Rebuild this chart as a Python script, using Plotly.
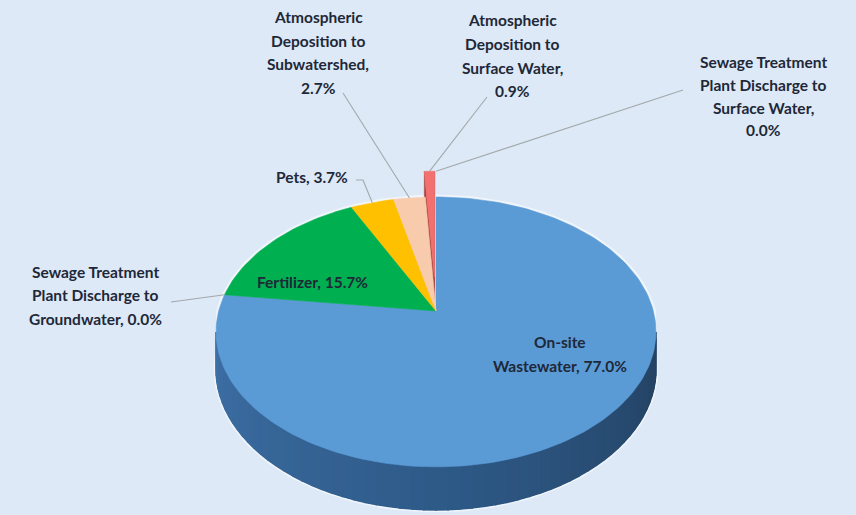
import numpy as np
import plotly.graph_objects as go

# ---- data -------------------------------------------------------------
categories = [
    "On-site Wastewater",
    "Sewage Treatment Plant Discharge to Groundwater",
    "Fertilizer",
    "Pets",
    "Atmospheric Deposition to Subwatershed",
    "Atmospheric Deposition to Surface Water",
    "Sewage Treatment Plant Discharge to Surface Water",
]
shares = [77.0, 0.0, 15.7, 3.7, 2.7, 0.9, 0.0]
label_templates = [
    "On-site\nWastewater, {:.1f}%",
    "Sewage Treatment\nPlant Discharge to\nGroundwater, {:.1f}%",
    "Fertilizer, {:.1f}%",
    "Pets, {:.1f}%",
    "Atmospheric\nDeposition to\nSubwatershed,\n{:.1f}%",
    "Atmospheric\nDeposition to\nSurface Water,\n{:.1f}%",
    "Sewage Treatment\nPlant Discharge to\nSurface Water,\n{:.1f}%",
]

# ---- styling ----------------------------------------------------------
W, H_PX = 856, 515
BG = "#dde9f6"
top_colors = ["#5b9bd5", "#5b9bd5", "#00b050", "#ffc000", "#f8cbad", "#f2706d", "#f2706d"]
explode = [0, 0, 0, 0, 0, 0.27, 0.27]
TEXT = "#1e2838"
FONT = "Lato"
FS = 15.5

# perspective projection of the tilted disc (screen pixels)
CX, CY = 436.0, 311.0
AX, BY = 217.3, 131.7
K = 0.155
DEPTH = 36.3


def proj(x, y, z=0.0):
    w = 1.0 + K * y
    return CX + AX * x / w, CY - BY * y / w + DEPTH * z / w


def deg2xy(th, r=1.0, ox=0.0, oy=0.0):
    t = np.radians(th)
    return ox + r * np.sin(t), oy + r * np.cos(t)


fig = go.Figure()


def poly(xs, ys, color, lw=0.6):
    fig.add_trace(go.Scatter(
        x=list(xs) + [xs[0]], y=list(ys) + [ys[0]], mode="lines",
        fill="toself", fillcolor=color, line=dict(color=color, width=lw),
        hoverinfo="skip", showlegend=False))


total = sum(shares)
bounds = np.concatenate([[0.0], np.cumsum(shares)]) / total * 360.0


def slice_top(i, z=0.0, n=None):
    a0, a1 = bounds[i], bounds[i + 1]
    mid = 0.5 * (a0 + a1)
    ox, oy = deg2xy(mid, explode[i])
    n = n or max(4, int((a1 - a0) / 1.5))
    ths = np.linspace(a0, a1, n)
    pts = [proj(ox, oy, z)] + [proj(*deg2xy(t, 1.0, ox, oy), z) for t in ths]
    return [p[0] for p in pts], [p[1] for p in pts]


# soft light halo around the disc outline
halo = np.linspace(0, 360, 181)
hx = [proj(*deg2xy(t), 0)[0] for t in halo]
hy = [max(proj(*deg2xy(t), 0)[1], proj(*deg2xy(t), 1)[1]) if 90 < t < 270 else proj(*deg2xy(t), 0)[1]
      for t in halo]
fig.add_trace(go.Scatter(x=hx, y=hy, mode="lines", line=dict(color="rgba(255,255,255,0.55)", width=5),
                         hoverinfo="skip", showlegend=False))

# exploded slices: radial side faces first, then their tops
for i, v in enumerate(shares):
    if v <= 0 or explode[i] == 0:
        continue
    a0, a1 = bounds[i], bounds[i + 1]
    mid = 0.5 * (a0 + a1)
    ox, oy = deg2xy(mid, explode[i])
    for a in (a0, a1):
        ex, ey = deg2xy(a, 1.0, ox, oy)
        p1, p2 = proj(ox, oy, 0), proj(ex, ey, 0)
        p3, p4 = proj(ex, ey, 1), proj(ox, oy, 1)
        poly([p1[0], p2[0], p3[0], p4[0]], [p1[1], p2[1], p3[1], p4[1]], "#a9423f")
    xs, ys = slice_top(i)
    poly(xs, ys, top_colors[i])

# front rim of the disc, shaded from light (left) to dark (right)
t_right = np.degrees(np.arccos(-K))
t_left = 360.0 - t_right
c_right = np.array([0x23, 0x40, 0x60])
c_mid = np.array([0x2e, 0x5a, 0x88])
c_left = np.array([0x3e, 0x70, 0xa6])

# base band under the shaded strips so no seams show through
ths = np.linspace(t_right, t_left, 120)
top = [proj(*deg2xy(t), 0) for t in ths]
bot = [proj(*deg2xy(t), 1) for t in ths[::-1]]
pts = top + bot
poly([p[0] for p in pts], [p[1] for p in pts], "rgb(46,90,136)", lw=0.5)

edges = np.linspace(t_right, t_left, 61)
for a, b in zip(edges[:-1], edges[1:]):
    f = (0.5 * (a + b) - t_right) / (t_left - t_right)
    c = c_right + (c_mid - c_right) * (f / 0.5) if f < 0.5 else c_mid + (c_left - c_mid) * ((f - 0.5) / 0.5)
    col = "rgb({},{},{})".format(*[int(round(v)) for v in c])
    ths = np.linspace(a, b, 4)
    top = [proj(*deg2xy(t), 0) for t in ths]
    bot = [proj(*deg2xy(t), 1) for t in ths[::-1]]
    pts = top + bot
    poly([p[0] for p in pts], [p[1] for p in pts], col, lw=1.6)

# tops of the remaining slices
for i, v in enumerate(shares):
    if v <= 0 or explode[i] != 0:
        continue
    xs, ys = slice_top(i)
    poly(xs, ys, top_colors[i])

# ---- labels ------------------------------------------------------------
# text placement: centre x, first line y, line step
label_pos = {
    0: (560, 342, 23.5),
    1: (95, 272, 23.3),
    2: (312, 282, 23.5),
    3: (312, 177, 23.5),
    4: (318, 17, 23.6),
    5: (512, 20, 23.8),
    6: (763, 62, 22.8),
}
# leader lines: start near the label, end on the slice rim
leader_start = {
    1: [(171, 302)],
    3: [(356, 180), (363, 180)],
    4: [(343, 93)],
    5: [(487, 97)],
    6: [(683, 90)],
}

for i, pts in leader_start.items():
    mid = 0.5 * (bounds[i] + bounds[i + 1])
    ox, oy = deg2xy(mid, explode[i])
    end = proj(*deg2xy(mid, 1.0, ox, oy))
    xs = [p[0] for p in pts] + [end[0]]
    ys = [p[1] for p in pts] + [end[1]]
    fig.add_trace(go.Scatter(x=xs, y=ys, mode="lines",
                             line=dict(color="#a3a8ad", width=1.1),
                             hoverinfo="skip", showlegend=False))

annotations = []
for i, tpl in enumerate(label_templates):
    x, y0, dy = label_pos[i]
    for j, line in enumerate(tpl.format(shares[i]).split("\n")):
        annotations.append(dict(
            x=x, y=y0 + j * dy, xref="x", yref="y", text="<b>" + line + "</b>",
            showarrow=False, xanchor="center", yanchor="middle",
            font=dict(family=FONT, size=FS, color=TEXT)))

fig.update_layout(
    width=W, height=H_PX,
    margin=dict(l=0, r=0, t=0, b=0),
    paper_bgcolor=BG, plot_bgcolor=BG,
    xaxis=dict(range=[0, W], visible=False, fixedrange=True),
    yaxis=dict(range=[H_PX, 0], visible=False, fixedrange=True),
    annotations=annotations,
    showlegend=False,
)

fig.write_html("out.html")
